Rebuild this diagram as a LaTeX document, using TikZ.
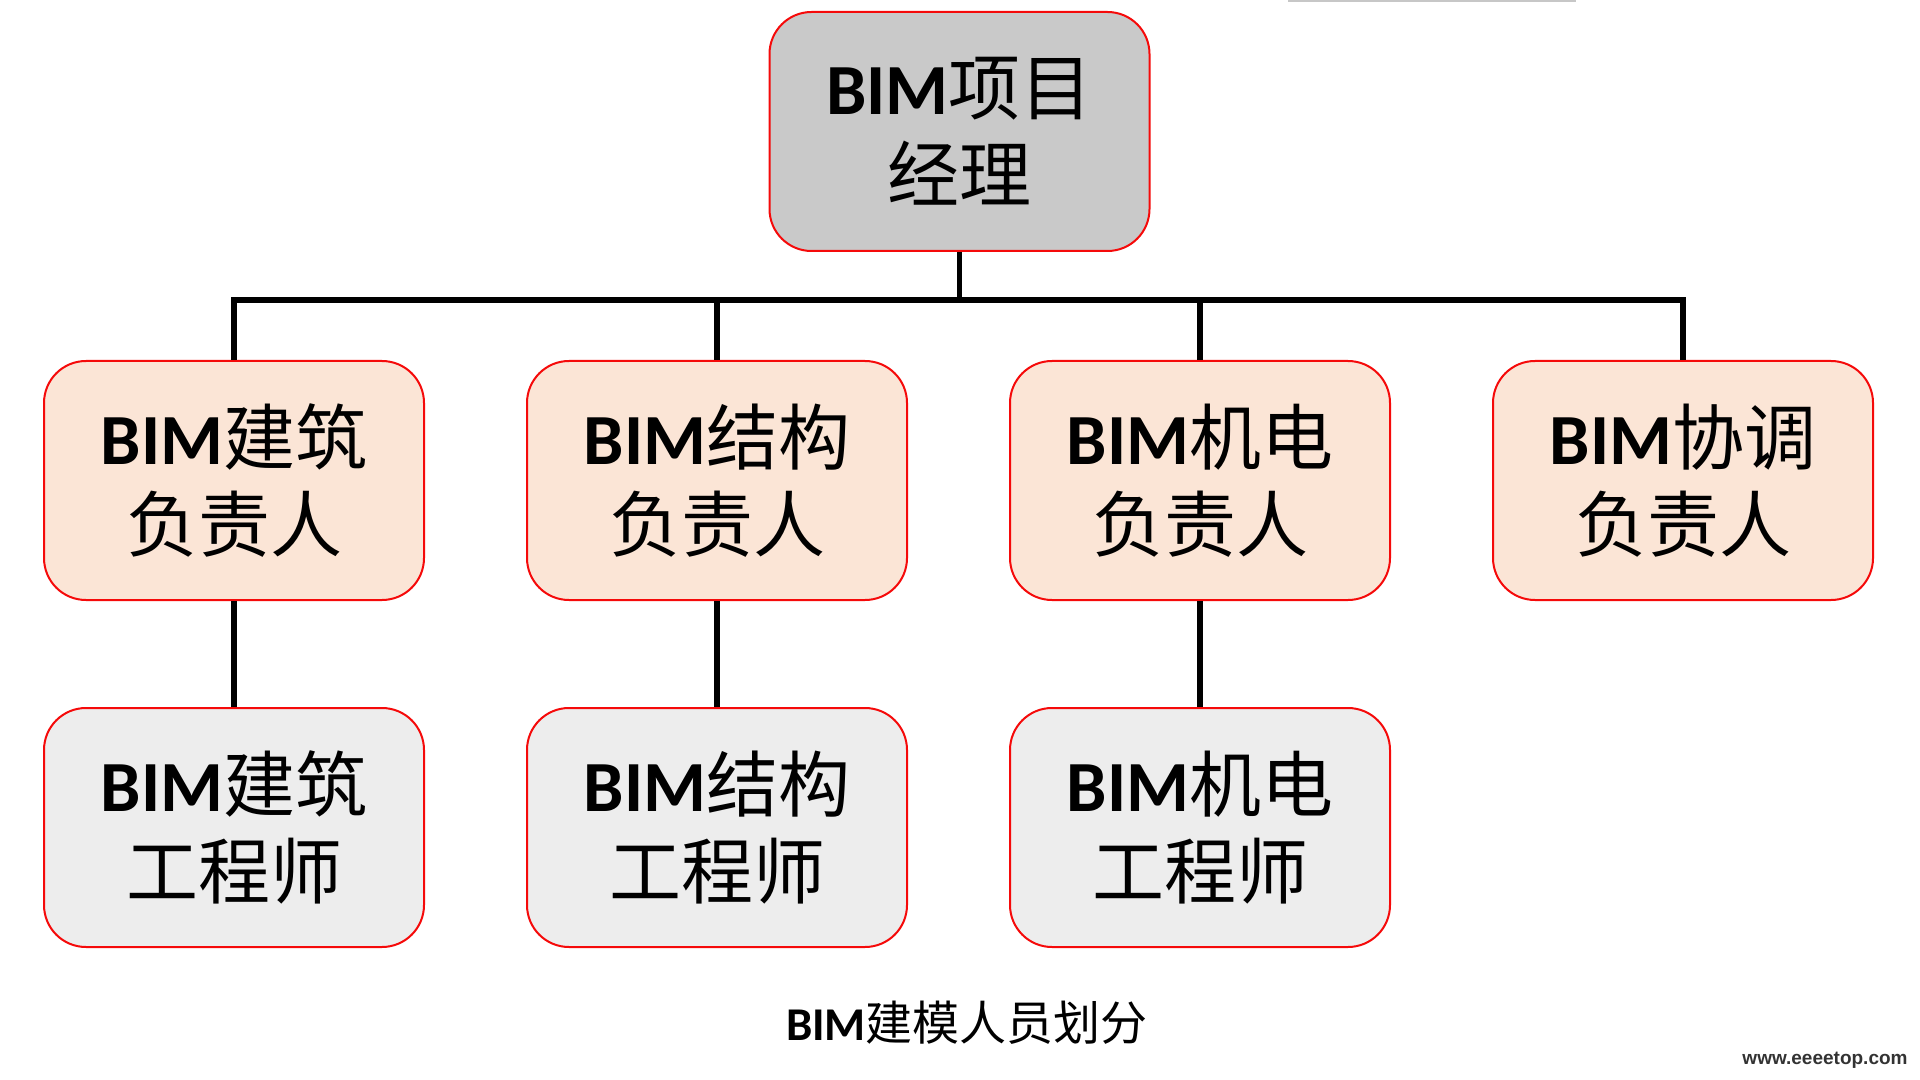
\documentclass[tikz,border=0pt]{standalone}
\usepackage{fontspec}
\setmainfont{Carlito}
\newfontfamily\cjk{Noto Sans CJK SC}
\newfontfamily\sitefont{Liberation Sans}
\usepackage{xcolor}
\usetikzlibrary{positioning}
\definecolor{boxred}{RGB}{245,10,10}
\definecolor{mgrgray}{RGB}{201,201,201}
\definecolor{leadpeach}{RGB}{251,229,214}
\definecolor{enggray}{RGB}{237,237,237}
\newcommand{\bimtag}{\textbf{BIM}}

\begin{document}
\begin{tikzpicture}[x=0.5pt,y=-0.5pt,
 box/.style={draw=boxred,line width=1pt,rounded corners=21pt,align=center,inner sep=0pt,
  minimum width=190pt,minimum height=119.5pt,font=\fontsize{36pt}{43.5pt}\selectfont},
 mgr/.style={box,fill=mgrgray},
 lead/.style={box,fill=leadpeach},
 eng/.style={box,fill=enggray},
 link/.style={line width=2.8pt}]
\useasboundingbox (0,0) rectangle (1920,1080);
\fill[black!22] (1288,0) rectangle (1576,2);
% manager
\node[mgr] (pm) at (959.5,131.5) {\bimtag{\cjk 项目}\\{\cjk 经理}};
% leads
\node[lead] (arch) at (234,480.5) {\bimtag{\cjk 建筑}\\{\cjk 负责人}};
\node[lead,right=50.5pt of arch] (struct) {\bimtag{\cjk 结构}\\{\cjk 负责人}};
\node[lead,right=50.5pt of struct] (mep) {\bimtag{\cjk 机电}\\{\cjk 负责人}};
\node[lead,right=50.5pt of mep] (coord) {\bimtag{\cjk 协调}\\{\cjk 负责人}};
% engineers
\node[eng,below=53pt of arch] (archeng) {\bimtag{\cjk 建筑}\\{\cjk 工程师}};
\node[eng,below=53pt of struct] (structeng) {\bimtag{\cjk 结构}\\{\cjk 工程师}};
\node[eng,below=53pt of mep] (mepeng) {\bimtag{\cjk 机电}\\{\cjk 工程师}};
\node[font=\fontsize{23.5pt}{28pt}\selectfont] (caption) at (967,1023) {\bimtag{\cjk 建模人员划分}};
\node[font=\sitefont\bfseries\fontsize{9.5pt}{11pt}\selectfont,text=black!80] (site) at (1825,1060) {www.eeeetop.com};
\draw[link] (pm.south) -- ++(0,48) coordinate (bus);
\draw[link] (bus) -| (arch.north);
\draw[link] (bus) -| (struct.north);
\draw[link] (bus) -| (mep.north);
\draw[link] (bus) -| (coord.north);
\draw[link] (arch) -- (archeng);
\draw[link] (struct) -- (structeng);
\draw[link] (mep) -- (mepeng);
\end{tikzpicture}
\end{document}
